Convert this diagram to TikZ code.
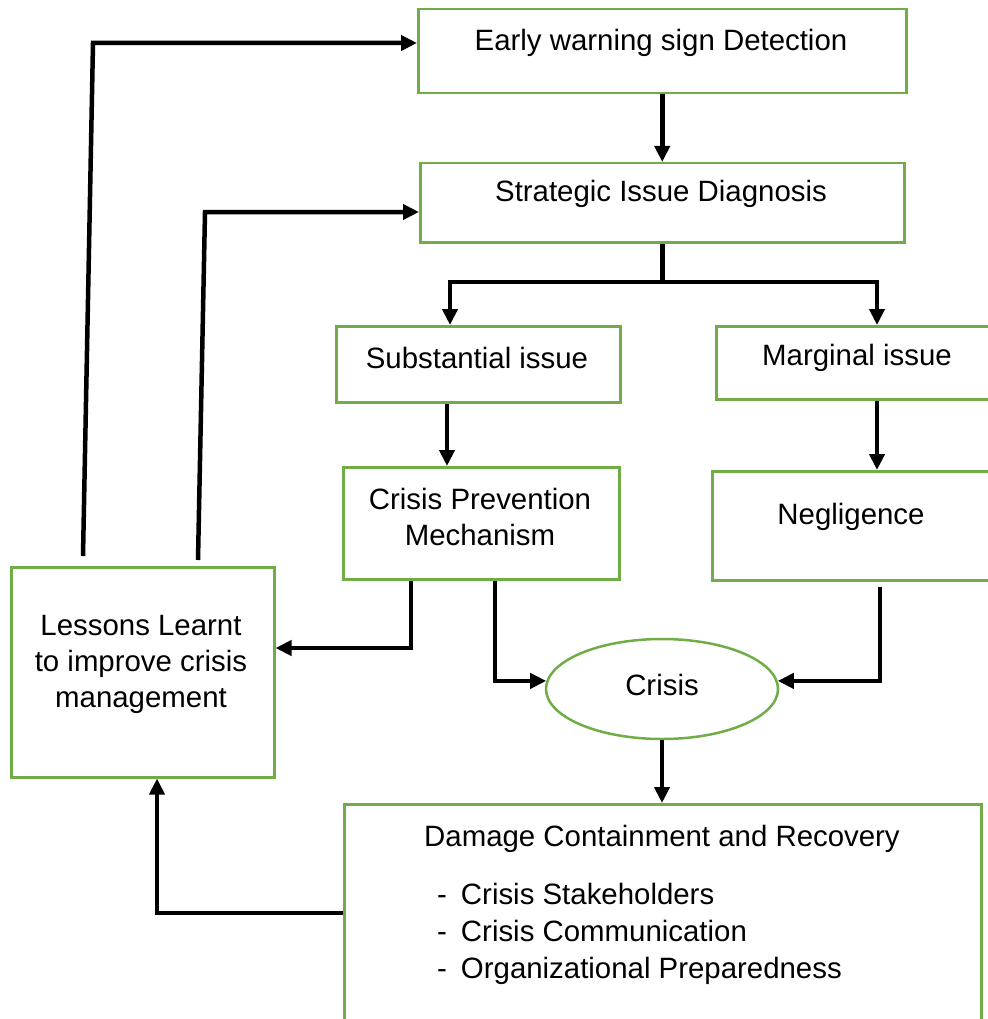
\documentclass[tikz,border=0pt]{standalone}
\usepackage{fontspec}
\setmainfont{Liberation Sans}
\usetikzlibrary{arrows.meta,shapes.geometric}
\definecolor{boxgreen}{HTML}{70AD47}
\begin{document}
\begin{tikzpicture}[x=1pt,y=-1pt,
 box/.style={draw=boxgreen,line width=2.5pt,inner sep=0pt,anchor=north west},
 txt/.style={font=\fontsize{29.4}{36}\selectfont,align=center,inner sep=0pt,yshift=-3pt},
 conn/.style={line width=4.5pt},
 arr/.style={line width=4.5pt,-{Triangle[length=16pt,width=15pt]}}]
\useasboundingbox (0,0) rectangle (987,1019);
% boxes
\node[box,minimum width=488pt,minimum height=84pt] (early) at (417,8) {};
\node[box,minimum width=484pt,minimum height=79pt] (strat) at (419,162) {};
\node[box,minimum width=284pt,minimum height=76pt] (sub) at (335,325) {};
\node[box,minimum width=290pt,minimum height=73pt] (marg) at (715,325) {};
\node[box,minimum width=276pt,minimum height=112pt] (prev) at (342,466) {};
\node[box,minimum width=290pt,minimum height=109pt] (neg) at (711,470) {};
\node[box,minimum width=263pt,minimum height=210pt] (less) at (10,566) {};
\node[draw=boxgreen,line width=2.5pt,ellipse,inner sep=0pt,minimum width=232pt,minimum height=100pt] (crisis) at (662,689) {};
\node[box,minimum width=637pt,minimum height=240pt] (dmg) at (343,803) {};
% texts
\node[txt] (tearly) at (661,40) {Early warning sign Detection};
\node[txt] (tstrat) at (661,191) {Strategic Issue Diagnosis};
\node[txt] (tsub) at (477,355) {Substantial issue};
\node[txt] (tmarg) at (857,355) {Marginal issue};
\node[txt] (tprev) at (480,514) {Crisis Prevention\\Mechanism};
\node[txt] (tneg) at (851,514) {Negligence};
\node[txt] (tless) at (141,661) {Lessons Learnt\\to improve crisis\\management};
\node[txt] (tcrisis) at (662,682) {Crisis};
\node[txt] (tdmg) at (662,836) {Damage Containment and Recovery};
\node[txt,anchor=west,font=\fontsize{29.4}{37}\selectfont] (tlist) at (437,931)
 {\begin{tabular}{@{}l@{\hspace{14pt}}l@{}}-&Crisis Stakeholders\\-&Crisis Communication\\-&Organizational Preparedness\end{tabular}};
% helper coordinates
\coordinate (sx) at (450,282);
\coordinate (mx) at (877,282);
\coordinate (c447) at (447,0);
\coordinate (p1) at (411,0);
\coordinate (ly) at (0,648);
\coordinate (p2) at (495,0);
\coordinate (n1) at (880,0);
\coordinate (dy) at (0,913);
\coordinate (lx) at (157,0);
\coordinate (s1) at (83,556);
\coordinate (k1) at (93,43);
\coordinate (s2) at (198,560);
\coordinate (k2) at (205,212);
% connectors
\draw[arr] (early.south) -- (strat.north);
\draw[arr] (strat.south) |- (sx) -- (sx |- sub.north);
\draw[arr] (sx) -| (mx |- marg.north);
\draw[arr] (sub.south -| c447) -- (prev.north -| c447);
\draw[arr] (marg.south -| mx) -- (neg.north -| mx);
\draw[arr] (prev.south -| p1) |- (less.east |- ly);
\draw[arr] (prev.south -| p2) |- (crisis.176.5);
\draw[arr] ([yshift=-5pt]neg.south -| n1) |- (crisis.4.5);
\draw[arr] (crisis.south) -- (crisis.south |- dmg.north);
\draw[arr] (dmg.west |- dy) -| (less.south -| lx);
\draw[arr] (s1) -- (k1) -- (k1 -| early.west);
\draw[arr] (s2) -- (k2) -- (k2 -| strat.west);
\end{tikzpicture}
\end{document}
